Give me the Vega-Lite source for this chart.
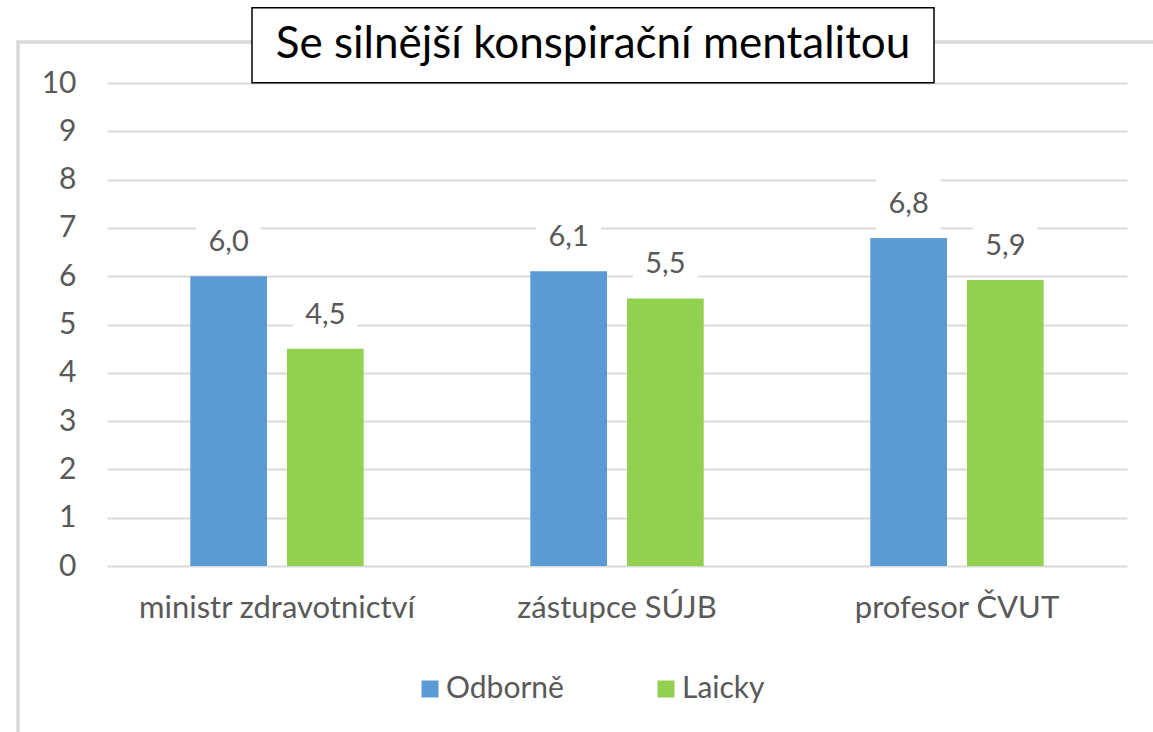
{
  "$schema": "https://vega.github.io/schema/vega-lite/v6.json",
  "width": 1141,
  "height": 696,
  "autosize": {"type": "none"},
  "padding": {"left": 18, "top": 42, "right": -6, "bottom": -6},
  "background": "white",
  "config": {
    "font": "Lato",
    "locale": {"number": {"decimal": ",", "thousands": " ", "grouping": [3], "currency": ["", " Kč"]}},
    "view": {"stroke": "#d9d9d9", "strokeWidth": 3.5},
    "axis": {"labelFont": "Lato", "labelColor": "#595959"}
  },
  "data": {
    "values": [
      {"category": "ministr zdravotnictví", "series": "Odborně", "value": 6.0},
      {"category": "ministr zdravotnictví", "series": "Laicky", "value": 4.5},
      {"category": "zástupce SÚJB", "series": "Odborně", "value": 6.1},
      {"category": "zástupce SÚJB", "series": "Laicky", "value": 5.54},
      {"category": "profesor ČVUT", "series": "Odborně", "value": 6.79},
      {"category": "profesor ČVUT", "series": "Laicky", "value": 5.92}
    ]
  },
  "layer": [
    {
      "mark": {"type": "bar"},
      "encoding": {
        "x": {
          "field": "category", "type": "nominal",
          "sort": ["ministr zdravotnictví", "zástupce SÚJB", "profesor ČVUT"],
          "scale": {"range": [89, 1109], "paddingInner": 0.49, "paddingOuter": 0.245},
          "axis": {"title": null, "orient": "bottom", "offset": -172, "labelPadding": 51, "labelBaseline": "alphabetic", "labelFontSize": 31, "labelAngle": 0, "labelLimit": 0, "domain": false, "ticks": false, "grid": false}
        },
        "xOffset": {"field": "series", "type": "nominal", "sort": ["Odborně", "Laicky"], "scale": {"paddingInner": 0.207}},
        "y": {
          "field": "value", "type": "quantitative",
          "scale": {"domain": [0, 10], "range": [524, 41], "nice": false},
          "axis": {"title": null, "offset": -58, "labelPadding": 0, "ticks": false, "tickSize": 0, "domain": false, "values": [0,1,2,3,4,5,6,7,8,9,10], "labelFontSize": 30, "gridColor": "#d9d9d9", "gridWidth": 2, "format": "d"}
        },
        "color": {
          "field": "series", "type": "nominal",
          "scale": {"domain": ["Odborně", "Laicky"], "range": ["#5B9BD5", "#92D050"]},
          "legend": {"orient": "none", "legendX": 397, "legendY": 632, "direction": "horizontal", "columns": 2, "title": null, "symbolType": "square", "symbolSize": 289, "labelFontSize": 30, "labelColor": "#595959", "labelFont": "Lato", "labelOffset": 1, "columnPadding": 87, "padding": 0, "symbolStrokeWidth": 0}
        }
      }
    },
    {
      "mark": {"type": "point", "shape": "M-1,-0.83L1,-0.83L1,0.83L-1,0.83Z", "size": 4225, "filled": true, "fill": "white", "opacity": 1, "strokeWidth": 0, "yOffset": -34},
      "encoding": {
        "x": {"field": "category", "type": "nominal", "sort": ["ministr zdravotnictví", "zástupce SÚJB", "profesor ČVUT"]},
        "xOffset": {"field": "series", "type": "nominal", "sort": ["Odborně", "Laicky"]},
        "y": {"field": "value", "type": "quantitative"}
      }
    },
    {
      "mark": {"type": "text", "baseline": "middle", "align": "center", "dy": -34, "fontSize": 29, "color": "#595959", "font": "Lato"},
      "encoding": {
        "x": {"field": "category", "type": "nominal", "sort": ["ministr zdravotnictví", "zástupce SÚJB", "profesor ČVUT"]},
        "xOffset": {"field": "series", "type": "nominal", "sort": ["Odborně", "Laicky"]},
        "y": {"field": "value", "type": "quantitative"},
        "text": {"field": "value", "type": "quantitative", "format": ".1f"}
      }
    },
    {
      "data": {"values": [{"title": "Se silnější konspirační mentalitou"}]},
      "mark": {"type": "point", "shape": "M-1,-0.11L1,-0.11L1,0.11L-1,0.11Z", "size": 465124, "filled": true, "fill": "white", "stroke": "black", "strokeWidth": 1.5, "opacity": 1, "xOffset": -24},
      "encoding": {
        "x": {"datum": "zástupce SÚJB", "type": "nominal", "bandPosition": 0.5},
        "y": {"datum": 10.78, "type": "quantitative"}
      }
    },
    {
      "data": {"values": [{"title": "Se silnější konspirační mentalitou"}]},
      "mark": {"type": "text", "baseline": "middle", "align": "center", "dx": -24, "fontSize": 44, "color": "black", "font": "Lato"},
      "encoding": {
        "x": {"datum": "zástupce SÚJB", "type": "nominal", "bandPosition": 0.5},
        "y": {"datum": 10.78, "type": "quantitative"},
        "text": {"field": "title", "type": "nominal"}
      }
    }
  ]
}
